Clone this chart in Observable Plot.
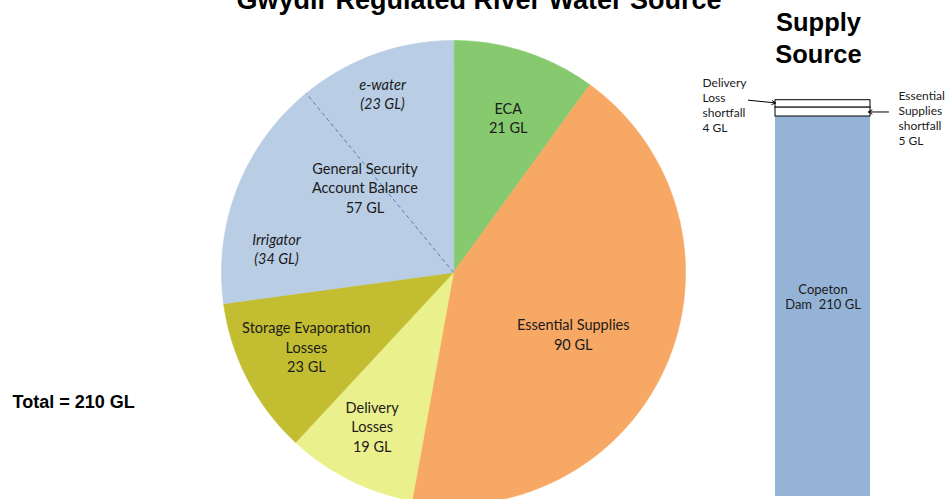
<!DOCTYPE html>
<html><head><meta charset="utf-8">
<script src="https://cdn.jsdelivr.net/npm/d3@7"></script>
<script src="https://cdn.jsdelivr.net/npm/@observablehq/plot@0.6"></script>
<style>
html,body{margin:0;padding:0;background:#fff;}
#wrap{position:relative;width:946px;height:499px;overflow:hidden;}
#wrap svg{position:absolute;left:0;top:0;background:transparent;overflow:hidden;}
</style></head><body><div id="wrap"></div>
<script>
// ---- data ----
const title = "Gwydir Regulated River Water Source";
const totalLabel = "Total = 210 GL";
const categories = ["ECA", "Essential Supplies", "Delivery Losses", "Storage Evaporation Losses", "General Security Account Balance"];
const values = [21, 90, 19, 23, 57];
const labelLines = [["ECA"], ["Essential Supplies"], ["Delivery", "Losses"], ["Storage Evaporation", "Losses"], ["General Security", "Account Balance"]];
const sliceColors = ["#86C96F", "#F7A864", "#EAF08B", "#C3BE31", "#B9CDE5"];
const subNames = ["Irrigator", "e-water"];
const subValues = [34, 23];
const supplyTitle = ["Supply", "Source"];
const supplyNames = ["Copeton Dam", "Essential Supplies shortfall", "Delivery Loss shortfall"];
const supplyValues = [210, 5, 4];
const supplyLabelLines = [["Copeton", "Dam  210 GL"], ["Essential", "Supplies", "shortfall", "5 GL"], ["Delivery", "Loss", "shortfall", "4 GL"]];
const supplyColors = ["#95B3D7", "#FFFFFF", "#FFFFFF"];

// ---- layout ----
const W = 946, H = 499;
const cx = 453, cy = 272, R = 232;
const labelFont = "Lato, 'Open Sans', sans-serif";
const boldFont = "'Liberation Sans', Arial, sans-serif";
// label placement: radial fraction and angle offset (degrees) from slice middle
const labelPlace = [[0.71, 1.4], [0.58, 4], [0.75, 1.3], [0.71, 0.7], [0.53, 2.8]];
const subPlace = [[0.77, -13.7], [0.83, -1.9]];

const arcs = d3.pie().sort(null).value(d => d)(values);
const total = d3.sum(values);

function slicePoints(a0, a1) {
  const pts = [{x: 0, y: 0}];
  const n = Math.max(2, Math.ceil((a1 - a0) / (Math.PI / 360)));
  for (let i = 0; i <= n; i++) {
    const a = a0 + (a1 - a0) * i / n;
    pts.push({x: Math.sin(a), y: Math.cos(a)});
  }
  return pts;
}
function polar(r, a) { return {x: r * Math.sin(a), y: r * Math.cos(a)}; }

const sliceMarks = arcs.map((a, i) =>
  Plot.line(slicePoints(a.startAngle, a.endAngle), {
    x: "x", y: "y", fill: sliceColors[i], stroke: sliceColors[i], strokeWidth: 0.6, curve: "linear-closed"
  })
);

const labels = arcs.map((a, i) => {
  const mid = (a.startAngle + a.endAngle) / 2 + labelPlace[i][1] * Math.PI / 180;
  const p = polar(labelPlace[i][0], mid);
  return {...p, text: [...labelLines[i], `${values[i]} GL`].join("\n")};
});

// General Security split into sub-accounts
const gs = arcs[4];
const subStarts = d3.cumsum([0, ...subValues]).map(v => gs.startAngle + v / total * 2 * Math.PI);
const splitAngle = subStarts[1];
const subLabels = subNames.map((n, i) => {
  const mid = (subStarts[i] + subStarts[i + 1]) / 2 + subPlace[i][1] * Math.PI / 180;
  const p = polar(subPlace[i][0], mid);
  return {...p, text: `${n}\n(${subValues[i]} GL)`};
});

const piePlot = Plot.plot({
  width: W, height: H, margin: 0,
  x: {domain: [-1, 1], range: [cx - R, cx + R], axis: null},
  y: {domain: [-1, 1], range: [cy + R, cy - R], axis: null},
  style: {background: "transparent"},
  marks: [
    ...sliceMarks,
    Plot.link([polar(1, splitAngle)], {x1: () => 0, y1: () => 0, x2: "x", y2: "y", stroke: "#4F81BD", strokeWidth: 1, strokeDasharray: "4,3"}),
    Plot.text(labels, {x: "x", y: "y", text: "text", fontSize: 14.5, fontFamily: labelFont, fill: "#1b1b1b", lineHeight: 1.33}),
    Plot.text(subLabels, {x: "x", y: "y", text: "text", fontSize: 14.5, fontFamily: labelFont, fontStyle: "italic", fill: "#1b1b1b", lineHeight: 1.33}),
    Plot.text([title], {frameAnchor: "top-left", dx: 478.5, dy: -0.6, text: d => d, textAnchor: "middle", lineAnchor: "middle", fontSize: 27, fontWeight: "bold", fontFamily: boldFont, fill: "#000"}),
    Plot.text([supplyTitle.join("\n")], {frameAnchor: "top-left", dx: 818, dy: 36, text: d => d, textAnchor: "middle", lineAnchor: "middle", fontSize: 25.5, fontWeight: "bold", fontFamily: boldFont, fill: "#000", lineHeight: 1.26}),
    Plot.text([totalLabel], {frameAnchor: "top-left", dx: 12, dy: 402, text: d => d, textAnchor: "start", lineAnchor: "middle", fontSize: 18, fontWeight: "bold", fontFamily: boldFont, fill: "#000"})
  ]
});

// ---- supply bar ----
const barLeft = 775, barRight = 870;
const supplyTotal = d3.sum(supplyValues);
const cum = d3.cumsum(supplyValues);
const stack = supplyValues.map((v, i) => ({name: supplyNames[i], y1: cum[i] - v, y2: cum[i], ym: cum[i] - v / 2, fill: supplyColors[i], text: supplyLabelLines[i].join("\n")}));
const pxPerGL = 380 / 210;

const barPlot = Plot.plot({
  width: W, height: H, margin: 0,
  x: {domain: [0, W], range: [0, W], axis: null},
  y: {domain: [0, supplyTotal], range: [496, 496 - supplyTotal * pxPerGL], axis: null},
  style: {background: "transparent"},
  marks: [
    Plot.rect(stack, {x1: () => barLeft, x2: () => barRight, y1: "y1", y2: "y2", fill: "fill", stroke: d => d.fill === "#FFFFFF" ? "#000" : "none", strokeWidth: 1}),
    // Copeton label
    Plot.text([stack[0]], {x: () => (barLeft + barRight) / 2, y: "ym", dy: -10, text: "text", fontSize: 13, fontFamily: labelFont, fill: "#1b1b1b", lineHeight: 1.15}),
    // Essential supplies shortfall
    Plot.text([stack[1]], {x: () => barRight + 28, y: "ym", dy: 6, text: "text", textAnchor: "start", fontSize: 12, fontFamily: labelFont, fill: "#1b1b1b", lineHeight: 1.25}),
    Plot.arrow([stack[1]], {x1: () => barRight + 18, x2: () => barRight - 2, y1: "ym", y2: "ym", stroke: "#000", strokeWidth: 1, headLength: 6}),
    // Delivery loss shortfall
    Plot.text([stack[2]], {x: () => barLeft - 73, y: "ym", dy: 1, text: "text", textAnchor: "start", fontSize: 12, fontFamily: labelFont, fill: "#1b1b1b", lineHeight: 1.25}),
    Plot.arrow([stack[2]], {x1: () => barLeft - 27, x2: () => barLeft, y1: d => d.ym + 2, y2: d => d.ym + 0.5, stroke: "#000", strokeWidth: 1, headLength: 6})
  ]
});

const wrap = document.getElementById("wrap");
wrap.appendChild(piePlot);
wrap.appendChild(barPlot);
</script>
</body></html>
